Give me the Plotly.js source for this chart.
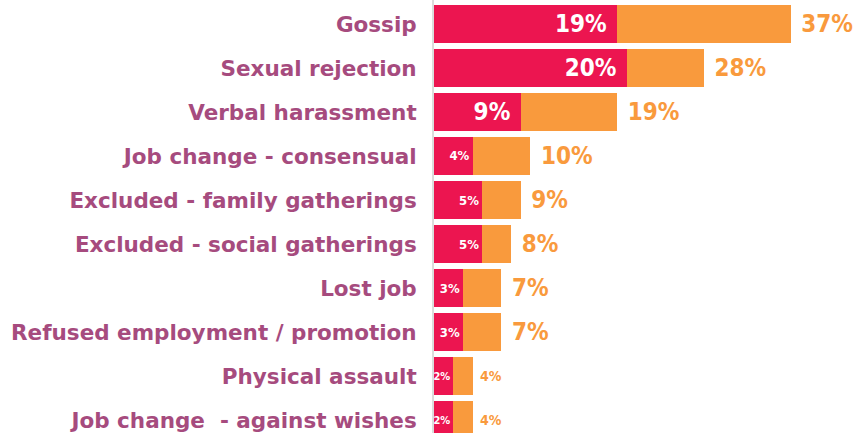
<!DOCTYPE html>
<html>
<head>
<meta charset="utf-8">
<script src="https://cdn.plot.ly/plotly-3.0.1.min.js"></script>
<style>
  html, body { margin: 0; padding: 0; background: #fff; }
  #chart { width: 865px; height: 433px; }
</style>
</head>
<body>
<div id="chart"></div>
<script>
// Data (percent of respondents)
const categories = [
  "Gossip",
  "Sexual rejection",
  "Verbal harassment",
  "Job change - consensual",
  "Excluded - family gatherings",
  "Excluded - social gatherings",
  "Lost job",
  "Refused employment / promotion",
  "Physical assault",
  "Job change  - against wishes"
];
const innerValues = [19, 20, 9, 4, 5, 5, 3, 3, 2, 2];   // crimson segment
const totalValues = [37, 28, 19, 10, 9, 8, 7, 7, 4, 4]; // whole bar

const restValues = totalValues.map((t, i) => t - innerValues[i]);

const FONT = "'DejaVu Sans Condensed', 'DejaVu Sans', sans-serif";
const LABEL_FONT = "'DejaVu Sans', sans-serif";
const NB = "\u00a0";

const innerText = innerValues.map(v => v >= 9 ? v + "%" + NB : v + "%");
const innerSize = innerValues.map(v => v >= 9 ? 24 : (v >= 3 ? 13 : 11));
const outerText = totalValues.map(v => NB + v + "%");
const outerSize = totalValues.map(v => v >= 7 ? 24 : 14);

const traces = [
  {
    type: "bar",
    orientation: "h",
    y: categories,
    x: innerValues,
    marker: { color: "#EC1550" },
    text: innerText,
    textposition: "inside",
    insidetextanchor: "end",
    textangle: 0,
    constraintext: "none",
    textfont: { family: FONT, size: innerSize, color: "#ffffff", weight: "bold" },
    hoverinfo: "none",
    cliponaxis: false
  },
  {
    type: "bar",
    orientation: "h",
    y: categories,
    x: restValues,
    marker: { color: "#F99A3D" },
    text: outerText,
    textposition: "outside",
    textangle: 0,
    constraintext: "none",
    outsidetextfont: { family: FONT, size: outerSize, color: "#F99A3D", weight: "bold" },
    hoverinfo: "none",
    cliponaxis: false
  }
];

const layout = {
  width: 865,
  height: 433,
  margin: { l: 434, r: 0, t: 0, b: 0, pad: 0 },
  paper_bgcolor: "#ffffff",
  plot_bgcolor: "#ffffff",
  barmode: "stack",
  bargap: 0.136,
  showlegend: false,
  xaxis: {
    range: [0, 44.7],
    visible: false,
    fixedrange: true
  },
  yaxis: {
    type: "category",
    range: [9.295, -0.545],
    showline: true,
    linecolor: "#dcdcdc",
    linewidth: 2,
    showgrid: false,
    zeroline: false,
    ticks: "",
    ticklabelstandoff: 11,
    tickfont: { family: LABEL_FONT, size: 21.5, color: "#A64B7E", weight: "bold" },
    fixedrange: true
  }
};

Plotly.newPlot("chart", traces, layout, { displayModeBar: false, staticPlot: true });
</script>
</body>
</html>
